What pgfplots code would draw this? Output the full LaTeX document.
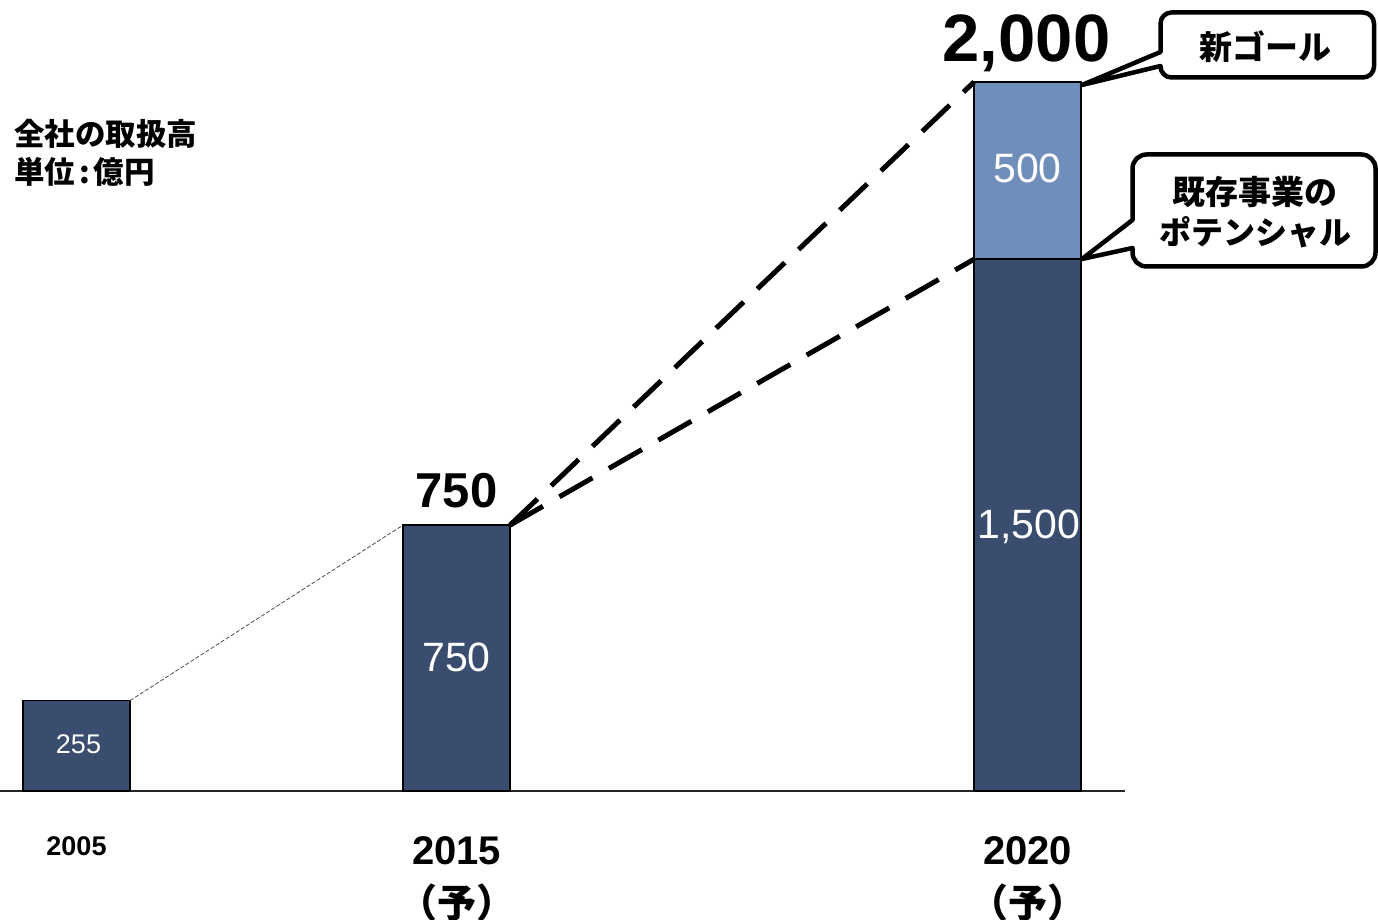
\documentclass[border=0pt]{standalone}
\usepackage{fontspec}
\setmainfont{Liberation Sans}
\newfontfamily\jp{Noto Sans CJK JP}
\usepackage{pgfplots}
\pgfplotsset{compat=1.18}
\definecolor{darkbar}{RGB}{58,77,110}
\definecolor{lightbar}{RGB}{111,142,186}
\begin{document}
\begin{tikzpicture}[x=1pt,y=1pt]
\useasboundingbox (0,-129) rectangle (1378,791);
\begin{axis}[
  at={(0,0)}, anchor=south west,
  scale only axis, width=1125pt, height=709pt,
  xmin=0, xmax=1125, ymin=0, ymax=2000,
  axis x line*=bottom, axis y line=none,
  x axis line style={-, line width=1.5pt, black!85},
  ytick=\empty,
  xtick={76.5,456.5,1027.5},
  xticklabels={
    {\fontsize{27}{32}\selectfont\bfseries 2005},
    {\fontsize{40}{47}\selectfont\bfseries 2015\\[18pt]{\jp\fontsize{39}{47}\selectfont\bfseries （予）}},
    {\fontsize{40}{47}\selectfont\bfseries 2020\\[18pt]{\jp\fontsize{39}{47}\selectfont\bfseries （予）}}
  },
  major tick length=0pt,
  xticklabel style={anchor=north, inner sep=0pt, align=center, yshift=-45pt},
  ybar stacked, bar width=107,
  clip=false,
]
\addplot[fill=darkbar, draw=black, line width=1.5pt] coordinates {(76.5,255) (456.5,750) (1027.5,1500)};
\addplot[fill=lightbar, draw=black, line width=1.5pt] coordinates {(76.5,0) (456.5,0) (1027.5,500)};
\end{axis}
\begin{axis}[
  at={(0,0)}, anchor=south west,
  scale only axis, width=1125pt, height=709pt,
  xmin=0, xmax=1125, ymin=0, ymax=2000,
  hide axis, clip=false,
]
\addplot[black!70, line width=0.8pt, dash pattern=on 4pt off 2pt] coordinates {(130,255) (403,750)};
\addplot[black, line width=5pt, dash pattern=on 38pt off 19pt] coordinates {(510,750) (974,2000)};
\addplot[black, line width=5pt, dash pattern=on 38pt off 19pt] coordinates {(510,750) (974,1500)};
\end{axis}
% callouts
\draw[line width=4.5pt, fill=white, line join=round]
  (1082,706) -- (1160.5,739) [rounded corners=11pt] -- (1160.5,778.5) -- (1374,778.5) -- (1374,713.5) -- (1160.5,713.5) [sharp corners] -- (1160.5,725) -- cycle;
\draw[line width=4.5pt, fill=white, line join=round]
  (1082,532) -- (1132.5,571) [rounded corners=14pt] -- (1132.5,636.5) -- (1375.5,636.5) -- (1375.5,524.5) -- (1132.5,524.5) [sharp corners] -- (1132.5,543) -- cycle;
\node[inner sep=0, font=\jp\fontsize{33}{33}\selectfont\bfseries] at (1265,744) {新ゴール};
\node[inner sep=0, font=\jp\fontsize{33}{33}\selectfont\bfseries] at (1255,599) {既存事業の};
\node[inner sep=0, font=\jp\fontsize{32}{32}\selectfont\bfseries] at (1255,559) {ポテンシャル};
% title
\node[anchor=west, inner sep=0, font=\jp\fontsize{30.5}{30.5}\selectfont\bfseries] at (14,657) {全社の取扱高};
\node[anchor=west, inner sep=0, font=\jp\fontsize{30.5}{30.5}\selectfont\bfseries] at (14,619) {単位\kern4pt:\kern4pt 億円};
% value labels
\node[anchor=base, inner sep=0, font=\fontsize{67}{67}\selectfont\bfseries] at (1026.5,729) {2,000};
\node[anchor=base, inner sep=0, font=\fontsize{49}{49}\selectfont\bfseries] at (456.5,283.5) {750};
\node[anchor=base, inner sep=0, text=white, font=\fontsize{41}{41}\selectfont] at (456.5,119.3) {750};
\node[anchor=base, inner sep=0, text=white, font=\fontsize{41}{41}\selectfont] at (1028.5,252.3) {1,500};
\node[anchor=base, inner sep=0, text=white, font=\fontsize{41}{41}\selectfont] at (1027.5,608.3) {500};
\node[anchor=base, inner sep=0, text=white, font=\fontsize{27}{27}\selectfont] at (78.5,37.3) {255};
\end{tikzpicture}
\end{document}
